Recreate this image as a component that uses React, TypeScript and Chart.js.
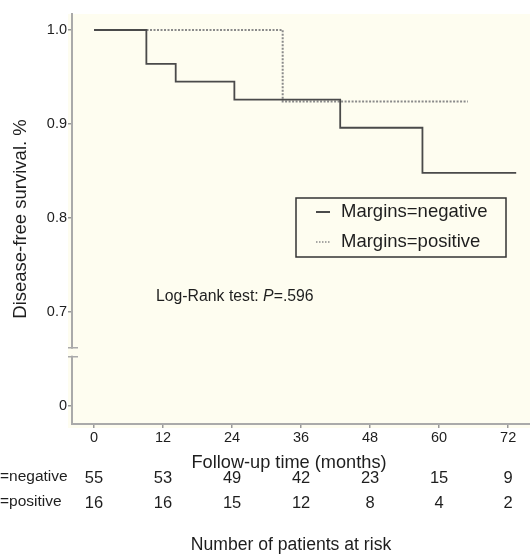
import React, { useEffect, useRef } from "react";
import { Chart, registerables } from "chart.js";

Chart.register(...registerables);

// ---- Data ----
const months = [0, 12, 24, 36, 48, 60, 72];
const negTimes = [0, 9.1, 14.2, 24.4, 42.8, 57.1, 73.4];
const negSurv = [1.0, 0.964, 0.945, 0.926, 0.896, 0.848, 0.848];
const posTimes = [0, 32.8, 65.0];
const posSurv = [1.0, 0.924, 0.924];
const atRiskNegative = [55, 53, 49, 42, 23, 15, 9];
const atRiskPositive = [16, 16, 15, 12, 8, 4, 2];
const yTickValues = [0, 0.7, 0.8, 0.9, 1.0];
const yTickLabels = ["0", "0.7", "0.8", "0.9", "1.0"];
const seriesLabels = ["Margins=negative", "Margins=positive"];

// axis break: the value 0 is drawn where 0.6 would be
const mapY = (v: number) => (v >= 0.7 ? v : 0.6);

const FONT = "'Liberation Sans', Arial, Helvetica, sans-serif";
const BG = "#fefdf0";
const LINE_NEG = "#4a4a4a";
const LINE_POS = "#8a8a8a";
const TEXT = "#1e1e1e";

export default function App() {
  const ref = useRef<HTMLCanvasElement | null>(null);

  useEffect(() => {
    if (!ref.current) return;

    const decor = {
      id: "decor",
      beforeDraw(chart: any) {
        const { ctx, chartArea } = chart;
        ctx.save();
        ctx.fillStyle = BG;
        ctx.fillRect(chartArea.left - 4, chartArea.top, chartArea.right - chartArea.left + 4, chartArea.bottom - chartArea.top + 4);
        ctx.restore();
      },
      afterDraw(chart: any) {
        const { ctx, chartArea, scales } = chart;
        const x = scales.x;
        const y = scales.y;
        ctx.save();
        // axis break
        const yb1 = y.getPixelForValue(0.6 + 0.1 * 0.62);
        const yb2 = yb1 + 9;
        ctx.fillStyle = BG;
        ctx.fillRect(chartArea.left - 3, yb1 + 1, 6, yb2 - yb1 - 2);
        ctx.strokeStyle = "#aaaaaa";
        ctx.lineWidth = 1.5;
        ctx.beginPath();
        ctx.moveTo(chartArea.left - 4, yb1);
        ctx.lineTo(chartArea.left + 6, yb1);
        ctx.moveTo(chartArea.left - 4, yb2);
        ctx.lineTo(chartArea.left + 6, yb2);
        ctx.stroke();

        // legend
        const lx = 296, ly = 198, lw = 210, lh = 59;
        ctx.strokeStyle = "#333";
        ctx.lineWidth = 1.5;
        ctx.strokeRect(lx, ly, lw, lh);
        ctx.lineWidth = 2;
        ctx.strokeStyle = LINE_NEG;
        ctx.beginPath();
        ctx.moveTo(316, 212);
        ctx.lineTo(330, 212);
        ctx.stroke();
        ctx.strokeStyle = LINE_POS;
        ctx.setLineDash([1.5, 1.5]);
        ctx.lineWidth = 1.5;
        ctx.beginPath();
        ctx.moveTo(316, 242);
        ctx.lineTo(330, 242);
        ctx.stroke();
        ctx.setLineDash([]);
        ctx.fillStyle = TEXT;
        ctx.font = `18.5px ${FONT}`;
        ctx.textAlign = "left";
        ctx.textBaseline = "middle";
        ctx.fillText(seriesLabels[0], 341, 212);
        ctx.fillText(seriesLabels[1], 341, 242);

        // log-rank text
        const lrSize = 15.8;
        ctx.font = `${lrSize}px ${FONT}`;
        const pre = "Log-Rank test: ";
        ctx.fillText(pre, 156, 297);
        const w1 = ctx.measureText(pre).width;
        ctx.font = `italic ${lrSize}px ${FONT}`;
        ctx.fillText("P", 156 + w1, 297);
        const w2 = ctx.measureText("P").width;
        ctx.font = `${lrSize}px ${FONT}`;
        ctx.fillText("=.596", 156 + w1 + w2, 297);

        // x title
        ctx.textAlign = "center";
        ctx.font = `18.2px ${FONT}`;
        ctx.fillText("Follow-up time (months)", 289, 463);

        // at risk table
        ctx.font = `16.5px ${FONT}`;
        months.forEach((m, i) => {
          const px = x.getPixelForValue(m);
          ctx.fillText(String(atRiskNegative[i]), px, 478);
          ctx.fillText(String(atRiskPositive[i]), px, 503);
        });
        ctx.textAlign = "left";
        ctx.font = `15.5px ${FONT}`;
        const mw = ctx.measureText("Margins").width;
        ctx.fillText(seriesLabels[0], -mw, 477);
        ctx.fillText(seriesLabels[1], -mw, 502);

        ctx.textAlign = "center";
        ctx.font = `17.6px ${FONT}`;
        ctx.fillText("Number of patients at risk", 291, 545);
        ctx.restore();
      },
    };

    const chart = new Chart(ref.current, {
      type: "line",
      data: {
        datasets: [
          {
            label: seriesLabels[0],
            data: negTimes.map((t, i) => ({ x: t, y: mapY(negSurv[i]) })),
            borderColor: LINE_NEG,
            borderWidth: 1.8,
            stepped: "before",
            pointRadius: 0,
            fill: false,
          },
          {
            label: seriesLabels[1],
            data: posTimes.map((t, i) => ({ x: t, y: mapY(posSurv[i]) })),
            borderColor: LINE_POS,
            borderWidth: 2,
            borderDash: [2, 1.5],
            stepped: "before",
            pointRadius: 0,
            fill: false,
          },
        ],
      },
      plugins: [decor],
      options: {
        responsive: false,
        animation: false,
        devicePixelRatio: 1,
        layout: { padding: { top: 14, left: 0, right: 0, bottom: 0 } },
        plugins: { legend: { display: false }, tooltip: { enabled: false } },
        scales: {
          x: {
            type: "linear",
            min: -3.83,
            max: 75.8,
            afterBuildTicks: (s: any) => {
              s.ticks = months.map((v) => ({ value: v }));
            },
            afterFit: (s: any) => {
              s.height = 136;
            },
            ticks: {
              font: { family: FONT, size: 14.5 },
              color: TEXT,
              padding: 1,
              maxRotation: 0,
              autoSkip: false,
            },
            grid: { drawOnChartArea: false, drawTicks: true, tickLength: 4, color: "#999", lineWidth: 1.5 },
            border: { color: "#aaa", width: 2 },
          },
          y: {
            type: "linear",
            min: 0.5808,
            max: 1.017,
            afterBuildTicks: (s: any) => {
              s.ticks = yTickValues.map((v) => ({ value: mapY(v) }));
            },
            afterFit: (s: any) => {
              s.width = 72;
            },
            ticks: {
              font: { family: FONT, size: 14.5 },
              color: TEXT,
              padding: 1,
              autoSkip: false,
              callback: (_v: any, i: number) => yTickLabels[i],
            },
            title: {
              display: true,
              text: "Disease-free survival. %",
              font: { family: FONT, size: 18.5 },
              color: TEXT,
              padding: { top: 10, bottom: 0 },
            },
            grid: { drawOnChartArea: false, drawTicks: true, tickLength: 4, color: "#999", lineWidth: 1.5 },
            border: { color: "#aaa", width: 2 },
          },
        },
      },
    } as any);

    return () => chart.destroy();
  }, []);

  return (
    <div style={{ position: "absolute", left: 0, top: 0, width: 530, height: 560 }}>
      <canvas ref={ref} width={530} height={560} style={{ display: "block" }} />
    </div>
  );
}
